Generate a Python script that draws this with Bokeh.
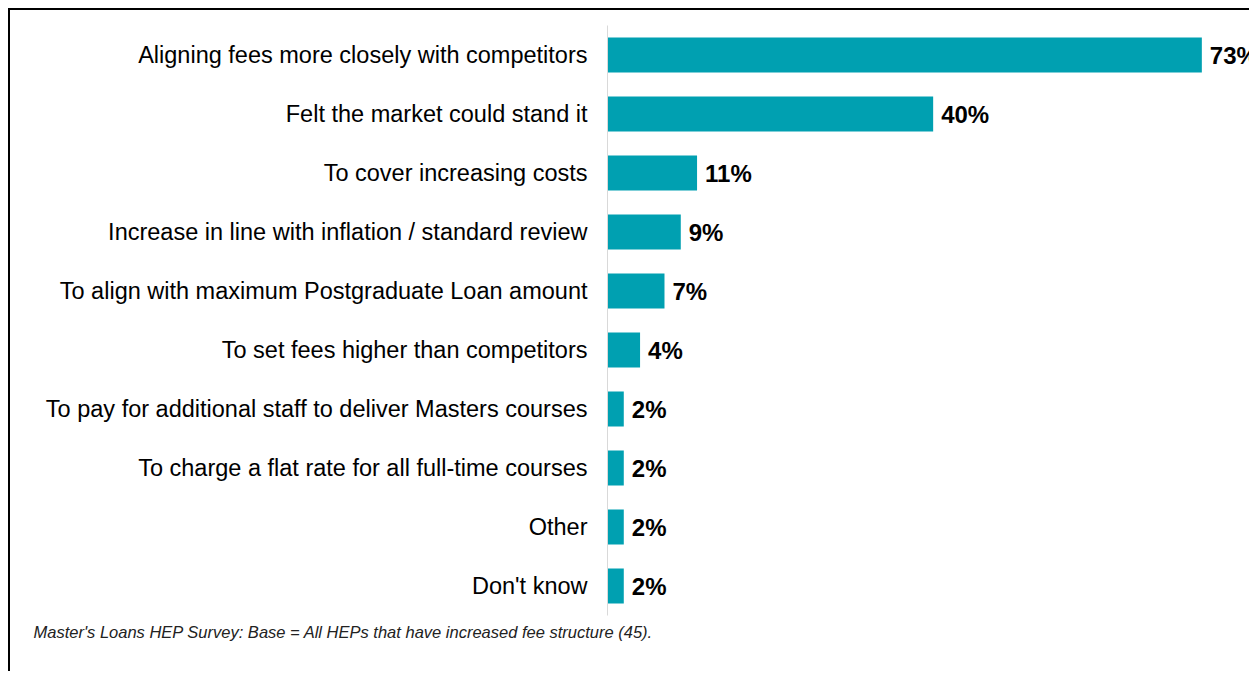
from bokeh.plotting import figure
from bokeh.models import ColumnDataSource, FactorRange, Range1d, Title
from bokeh.embed import file_html
from bokeh.resources import INLINE
from bokeh.core.properties import value

categories = [
    "Aligning fees more closely with competitors",
    "Felt the market could stand it",
    "To cover increasing costs",
    "Increase in line with inflation / standard review",
    "To align with maximum Postgraduate Loan amount",
    "To set fees higher than competitors",
    "To pay for additional staff to deliver Masters courses",
    "To charge a flat rate for all full-time courses",
    "Other",
    "Don't know",
]
values = [73, 40, 11, 9, 7, 4, 2, 2, 2, 2]
labels = [f"{v}%" for v in values]
footnote = "Master's  Loans  HEP Survey:  Base = All HEPs that have  increased fee structure (45)."

source = ColumnDataSource(dict(cat=categories, val=values, lab=labels))

p = figure(
    width=1241, height=663,
    y_range=FactorRange(factors=list(reversed(categories)), range_padding=0),
    x_range=Range1d(0, 79.1),
    output_backend="svg", toolbar_location=None,
    min_border_left=597, min_border_right=0, min_border_top=15, min_border_bottom=58,
)
p.styles = {"border-top": "2px solid #000000", "border-left": "2px solid #000000",
            "margin-left": "8px", "margin-top": "8px"}
p.outline_line_color = None
p.background_fill_color = "white"
p.border_fill_color = "white"

p.hbar(y="cat", right="val", left=0, height=0.594, source=source,
       fill_color="#00A0B1", line_color=None)

p.text(x="val", y="cat", text="lab", source=source, x_offset=8,
       text_align="left", text_baseline="middle",
       text_font=value("Liberation Sans"), text_font_style="bold",
       text_font_size="24px", text_color="#000000")

p.xaxis.visible = False
p.xgrid.visible = False
p.ygrid.visible = False
ax = p.yaxis[0]
ax.axis_line_color = "#D9D9D9"
ax.axis_line_width = 1
ax.major_tick_line_color = None
ax.minor_tick_line_color = None
ax.major_tick_out = 0
ax.major_tick_in = 0
ax.major_label_standoff = 20
ax.major_label_text_font = "Liberation Sans"
ax.major_label_text_font_size = "23.5px"
ax.major_label_text_color = "#000000"

note = Title(text=footnote, align="left", offset=-574, standoff=10,
             vertical_align="bottom",
             text_font="Liberation Sans", text_font_style="italic",
             text_font_size="16.5px", text_color="#222222")
p.add_layout(note, "below")

# transparent spacer title between the plot area and the footnote
spacer = Title(text=".", align="left", standoff=6, text_font_size="16px",
               text_alpha=0.0)
p.add_layout(spacer, "below")

open("out.html", "w").write(file_html(p, INLINE))
